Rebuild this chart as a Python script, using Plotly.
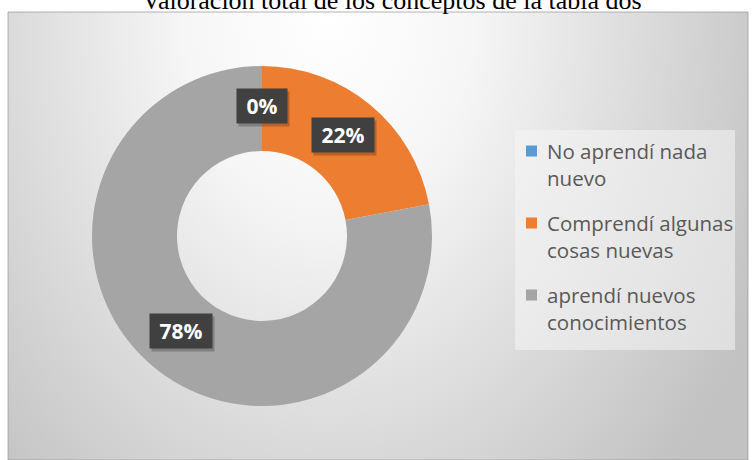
import base64
import math
import plotly.graph_objects as go

# Survey result: overall rating of the concepts in table two
title_text = "Valoración total de los conceptos de la tabla dos"
categories = [
    "No aprendí nada<br>nuevo",
    "Comprendí algunas<br>cosas nuevas",
    "aprendí nuevos<br>conocimientos",
]
percentages = [0, 22, 78]
slice_colors = ["#5B9BD5", "#ED7D31", "#A5A5A5"]

W, H = 756, 460
# donut geometry in pixels
CX, CY, R_OUT = 262, 236, 170
HOLE = 0.5


def px_x(x):
    return x / W


def px_y(y):
    return 1 - y / H


# soft radial-gradient panel behind the chart
PANEL = dict(x0=8, y0=12, x1=748, y1=460)
pw, ph = PANEL["x1"] - PANEL["x0"], PANEL["y1"] - PANEL["y0"]
svg = f"""<svg xmlns='http://www.w3.org/2000/svg' width='{pw}' height='{ph}'>
<defs><radialGradient id='g' gradientUnits='userSpaceOnUse' cx='320' cy='0' r='480'
 gradientTransform='translate(320 0) scale(1 1.35) translate(-320 0)'>
<stop offset='0' stop-color='#ffffff'/>
<stop offset='0.3' stop-color='#f6f6f6'/>
<stop offset='0.7' stop-color='#d8d8d8'/>
<stop offset='1' stop-color='#c2c2c2'/>
</radialGradient></defs>
<rect width='{pw}' height='{ph}' fill='url(#g)'/>
</svg>"""
bg_src = "data:image/svg+xml;base64," + base64.b64encode(svg.encode()).decode()

fig = go.Figure()
fig.add_trace(go.Pie(
    labels=categories,
    values=percentages,
    sort=False,
    direction="clockwise",
    rotation=0,
    hole=HOLE,
    marker=dict(colors=slice_colors, line=dict(width=0)),
    textinfo="none",
    hoverinfo="label+percent",
    showlegend=False,
    domain=dict(
        x=[px_x(CX - R_OUT), px_x(CX + R_OUT)],
        y=[px_y(CY + R_OUT), px_y(CY - R_OUT)],
    ),
))

annotations = []
shapes = [dict(type="rect", xref="paper", yref="paper",
               x0=px_x(PANEL["x0"]), x1=px_x(PANEL["x1"]),
               y0=px_y(PANEL["y1"]), y1=px_y(PANEL["y0"]),
               line=dict(color="rgba(150,150,150,0.7)", width=1),
               layer="below")]

# value labels: dark boxes centred on the middle of each ring segment
total = sum(percentages)
r_mid = R_OUT * (1 + HOLE) / 2
cum = 0.0
for v in percentages:
    mid = (cum + v / 2) / total * 2 * math.pi
    cum += v
    lx = CX + r_mid * math.sin(mid)
    ly = CY - r_mid * math.cos(mid) - 3
    label = f"{v}%"
    bw = 12 * len(label) + 18
    common = dict(x=px_x(lx), y=px_y(ly), xref="paper", yref="paper",
                  showarrow=False, width=bw, height=26, borderpad=4,
                  xanchor="center", yanchor="middle")
    annotations.append(dict(text=" ", bgcolor="rgba(0,0,0,0.22)",
                            xshift=2, yshift=-3, **common))
    annotations.append(dict(
        text=f"<b>{label}</b>", bgcolor="#404040",
        font=dict(family="Open Sans", size=21, color="white"), **common))

# legend panel with a colour key per category
LEG = dict(x0=515, y0=130, x1=735, y1=350)
shapes.append(dict(type="rect", xref="paper", yref="paper",
                   x0=px_x(LEG["x0"]), x1=px_x(LEG["x1"]),
                   y0=px_y(LEG["y1"]), y1=px_y(LEG["y0"]),
                   fillcolor="rgba(246,246,246,0.55)", line=dict(width=0),
                   layer="below"))
first_line_y = 151
item_step = 72
line_h = 26
for i, (name, col) in enumerate(zip(categories, slice_colors)):
    yc = first_line_y + i * item_step
    shapes.append(dict(type="rect", xref="paper", yref="paper",
                       x0=px_x(526), x1=px_x(537),
                       y0=px_y(yc + 5.5), y1=px_y(yc - 5.5),
                       fillcolor=col, line=dict(width=0)))
    annotations.append(dict(
        text=name, x=px_x(545), y=px_y(yc - line_h / 2 - 3),
        xref="paper", yref="paper", showarrow=False,
        xanchor="left", yanchor="top", align="left",
        font=dict(family="Open Sans", size=20.5, color="#595959"),
    ))

annotations.append(dict(
    text=title_text, x=px_x(392), y=px_y(1), xref="paper", yref="paper",
    showarrow=False, xanchor="center", yanchor="middle",
    font=dict(family="Liberation Serif", size=26, color="black"),
))

fig.update_layout(
    width=W, height=H, autosize=False,
    margin=dict(l=0, r=0, t=0, b=0),
    paper_bgcolor="white",
    plot_bgcolor="rgba(0,0,0,0)",
    images=[dict(source=bg_src, xref="paper", yref="paper",
                 x=px_x(PANEL["x0"]), y=px_y(PANEL["y0"]),
                 sizex=pw / W, sizey=ph / H, sizing="stretch",
                 xanchor="left", yanchor="top", layer="below")],
    shapes=shapes,
    annotations=annotations,
    showlegend=False,
)

fig.write_html("out.html")
